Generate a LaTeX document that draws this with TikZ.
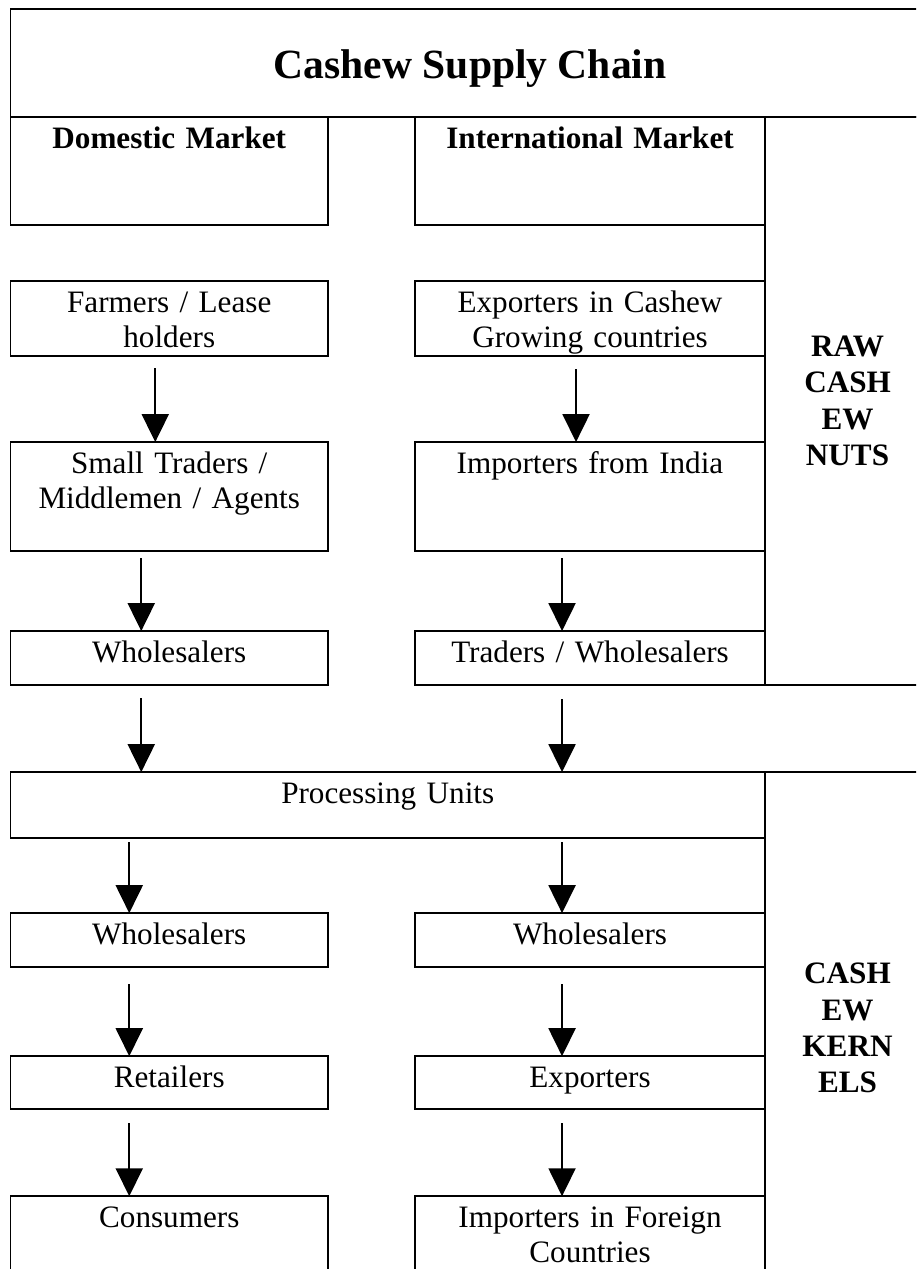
\documentclass[tikz,border=0pt]{standalone}
\usepackage{fontspec}
\setmainfont{Liberation Serif}
\usetikzlibrary{positioning,arrows.meta}

\begin{document}
\begin{tikzpicture}[x=0.385pt, y=-0.385pt,
    box/.style = {draw, line width=0.75pt, inner sep=0pt, outer sep=0pt, align=center, anchor=north west,
      font=\fontsize{12}{13.5}\selectfont, text height=11.94pt},
    head/.style = {font=\fontsize{12}{13.5}\selectfont\bfseries},
    lbox/.style = {box, minimum width=122.24pt, text width=122.24pt},
    rbox/.style = {box, minimum width=134.75pt, text width=134.75pt},
    side/.style = {draw, line width=0.75pt, inner sep=0pt, outer sep=0pt, align=center, anchor=north west,
      minimum width=63.53pt, font=\fontsize{12}{14}\selectfont\bfseries},
    arr/.style = {line width=0.75pt, -{Triangle[length=10.78pt, width=10.4pt]}}]
	\useasboundingbox (0,0) rectangle (916,1269);
	\clip (0,0) rectangle (916,1269);
	% header
	\node[box, minimum width=354pt, text height=26.57pt, text depth=15.02pt, font=\fontsize{16}{19}\selectfont\bfseries] (title) at (10.5,9) {Cashew Supply Chain};
	\node[lbox, head, text depth=29.65pt] (dom) at (title.south west) {Domestic Market};
	\node[rbox, head, text depth=29.65pt, right=33.5pt of dom] (intl) {International Market};
	% raw nuts
	\node[lbox, text depth=16.94pt, below=21.56pt of dom] (farm) {Farmers / Lease\\holders};
	\node[rbox, text depth=16.94pt, right=33.5pt of farm] (exp) {Exporters in Cashew\\Growing countries};
	\node[lbox, text depth=30.03pt, below=33.11pt of farm] (trad) {Small Traders /\\Middlemen / Agents};
	\node[rbox, text depth=30.03pt, right=33.5pt of trad] (impin) {Importers from India};
	\node[lbox, text depth=8.86pt, below=30.8pt of trad] (whole) {Wholesalers};
	\node[rbox, text depth=8.86pt, right=33.5pt of whole] (trw) {Traders / Wholesalers};
	\node[box, minimum width=290.48pt, text width=290.48pt, text depth=13.48pt, below right=33.5pt and 0pt of whole.south west] (proc) {Processing Units};
	% kernels
	\node[lbox, text depth=8.86pt, below right=28.88pt and 0pt of proc.south west] (ws) {Wholesalers};
	\node[rbox, text depth=8.86pt, right=33.5pt of ws] (wsr) {Wholesalers};
	\node[lbox, text depth=8.47pt, below=34.27pt of ws] (ret) {Retailers};
	\node[rbox, text depth=8.47pt, right=33.5pt of ret] (expo) {Exporters};
	\node[lbox, text depth=30.42pt, below=33.5pt of ret] (cons) {Consumers};
	\node[rbox, text depth=30.42pt, right=33.5pt of cons] (impf) {Importers in Foreign\\Countries};
	\node[side, minimum height=218.68pt] (raw) at (intl.north east) {RAW\\CASH\\EW\\NUTS};
	\node[side, minimum height=197.12pt] (kern) at (proc.north east) {CASH\\EW\\KERN\\ELS};
	% arrows
	\draw[arr, shorten <=4.62pt] ([xshift=-5.39pt]farm.south) -- ([xshift=-5.39pt]trad.north);
	\draw[arr, shorten <=5pt] ([xshift=-5.39pt]exp.south) -- ([xshift=-5.39pt]impin.north);
	\draw[arr, shorten <=2.7pt] ([xshift=-10.78pt]trad.south) -- ([xshift=-10.78pt]whole.north);
	\draw[arr, shorten <=2.7pt] ([xshift=-10.78pt]impin.south) -- ([xshift=-10.78pt]trw.north);
	\draw[arr, shorten <=5pt] ([xshift=-10.78pt]whole.south) -- ([xshift=-10.78pt]whole.south |- proc.north);
	\draw[arr, shorten <=5.39pt] ([xshift=-10.78pt]trw.south) -- ([xshift=-10.78pt]trw.south |- proc.north);
	\draw[arr, shorten <=1.54pt] ([xshift=-15.4pt]ws.north |- proc.south) -- ([xshift=-15.4pt]ws.north);
	\draw[arr, shorten <=1.54pt] ([xshift=-10.78pt]wsr.north |- proc.south) -- ([xshift=-10.78pt]wsr.north);
	\draw[arr, shorten <=6.55pt] ([xshift=-15.4pt]ws.south) -- ([xshift=-15.4pt]ret.north);
	\draw[arr, shorten <=6.55pt] ([xshift=-10.78pt]wsr.south) -- ([xshift=-10.78pt]expo.north);
	\draw[arr, shorten <=5.39pt] ([xshift=-15.4pt]ret.south) -- ([xshift=-15.4pt]cons.north);
	\draw[arr, shorten <=5.39pt] ([xshift=-10.78pt]expo.south) -- ([xshift=-10.78pt]impf.north);
\end{tikzpicture}
\end{document}
